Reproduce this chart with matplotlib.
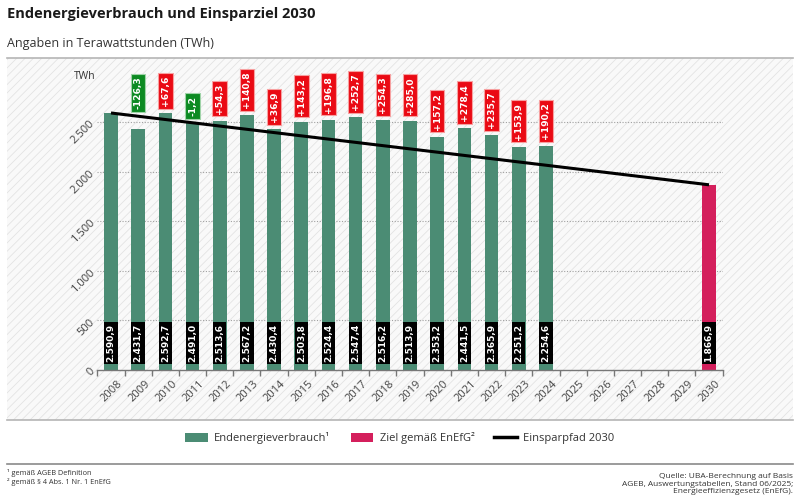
import matplotlib
matplotlib.use("Agg")
import matplotlib.pyplot as plt
from matplotlib.patches import Rectangle, Patch
from matplotlib.lines import Line2D
import matplotlib.transforms as mtransforms
import numpy as np

plt.rcParams['font.family'] = ['Open Sans', 'DejaVu Sans']
plt.rcParams['hatch.linewidth'] = 0.6

years = [str(y) for y in range(2008, 2031)]
consumption_years = [str(y) for y in range(2008, 2025)]
consumption = [2590.9, 2431.7, 2592.7, 2491.0, 2513.6, 2567.2, 2430.4, 2503.8,
               2524.4, 2547.4, 2516.2, 2513.9, 2353.2, 2441.5, 2365.9, 2251.2, 2254.6]
consumption_labels = ["2.590,9", "2.431,7", "2.592,7", "2.491,0", "2.513,6", "2.567,2",
                      "2.430,4", "2.503,8", "2.524,4", "2.547,4", "2.516,2", "2.513,9",
                      "2.353,2", "2.441,5", "2.365,9", "2.251,2", "2.254,6"]
target_year = "2030"
target = 1866.9
target_label = "1.866,9"
path_years = ["2008", "2030"]
path_values = [2590.9, 1866.9]
delta_years = [str(y) for y in range(2009, 2025)]
deltas = [-126.3, 67.6, -1.2, 54.3, 140.8, 36.9, 143.2, 196.8, 252.7, 254.3,
          285.0, 157.2, 278.4, 235.7, 153.9, 190.2]
delta_labels = ["-126,3", "+67,6", "-1,2", "+54,3", "+140,8", "+36,9", "+143,2", "+196,8",
                "+252,7", "+254,3", "+285,0", "+157,2", "+278,4", "+235,7", "+153,9", "+190,2"]
yticks = [0, 500, 1000, 1500, 2000, 2500]
ytick_labels = ["0", "500", "1.000", "1.500", "2.000", "2.500"]

GREEN = '#4b8c74'
PINK = '#d41f5c'
RED = '#ea0a14'
DGREEN = '#0c8a22'
LABEL_FONT = ['DejaVu Sans']

fig = plt.figure(figsize=(8, 5), dpi=100)
W, H = 800, 500

# hatched background
bg = Rectangle((7 / W, 1 - 420 / H), 786 / W, 362 / H, transform=fig.transFigure,
               facecolor='#f9f9f9', edgecolor='#e3e3e3', hatch='////', lw=0, zorder=-5)
fig.patches.append(bg)
for yy in (58, 420):
    fig.add_artist(Line2D([7 / W, 793 / W], [1 - yy / H, 1 - yy / H], color='#b5b5b5', lw=1.2,
                          transform=fig.transFigure))
fig.add_artist(Line2D([7 / W, 793 / W], [1 - 464 / H, 1 - 464 / H], color='#8a8a8a', lw=1.2,
                      transform=fig.transFigure))

fig.text(7 / W, 1 - 14 / H, "Endenergieverbrauch und Einsparziel 2030", fontsize=10.5,
         fontweight='bold', va='center', ha='left', color='#1a1a1a')
fig.text(7 / W, 1 - 44 / H, "Angaben in Terawattstunden (TWh)", fontsize=9,
         va='center', ha='left', color='#333333')

ax = fig.add_axes([97.4 / W, 1 - 370 / H, 625.2 / W, 297.6 / H])
ax.set_facecolor('none')
idx = {y: i for i, y in enumerate(years)}
xc = [idx[y] for y in consumption_years]
ax.bar(xc, consumption, width=0.5, color=GREEN, zorder=2)
ax.bar([idx[target_year]], [target], width=0.5, color=PINK, zorder=2)
ax.plot([idx[y] for y in path_years], path_values, color='black', lw=2.2, zorder=3,
        solid_capstyle='butt')

ax.set_xlim(-0.5, len(years) - 0.5)
ax.set_ylim(0, 3000)

for s in ('left', 'right', 'top'):
    ax.spines[s].set_visible(False)
ax.spines['bottom'].set_color('#777777')
ax.spines['bottom'].set_linewidth(1.0)
for v in yticks[1:]:
    ax.axhline(v, color='#a0a0a0', lw=0.8, ls=(0, (1, 1.5)), zorder=1)

ax.set_yticks(yticks)
ax.set_yticklabels(ytick_labels, rotation=45, ha='right', va='center', rotation_mode='anchor',
                   fontsize=8, color='#444444')
ax.tick_params(axis='y', length=0, pad=3)

ax.set_xticks(np.arange(len(years)))
ax.set_xticklabels(years, rotation=45, ha='right', va='center', rotation_mode='anchor',
                   fontsize=8, color='#444444')
ax.tick_params(axis='x', length=0, pad=9)
shift = mtransforms.ScaledTranslation(10 / 100, 0, fig.dpi_scale_trans)
for lab in ax.get_xticklabels():
    lab.set_transform(lab.get_transform() + shift)
ax.set_xticks(np.arange(-0.5, len(years)), minor=True)
ax.tick_params(axis='x', which='minor', length=4, color='#777777', width=1)

# value labels at the bottom
for x, lab in zip(xc, consumption_labels):
    ax.text(x, 272, lab, rotation=90, ha='center', va='center', fontsize=6.5, fontweight='bold',
            color='white', zorder=4, family=LABEL_FONT,
            bbox=dict(boxstyle='square,pad=0.25', facecolor='black', edgecolor='none'))
ax.text(idx[target_year], 272, target_label, rotation=90, ha='center', va='center', fontsize=6.5,
        fontweight='bold', color='white', zorder=4, family=LABEL_FONT,
        bbox=dict(boxstyle='square,pad=0.25', facecolor='black', edgecolor='none'))

# delta labels above bars
p0, p1 = path_values
n = idx[path_years[1]] - idx[path_years[0]]
cons_map = dict(zip(consumption_years, consumption))
for y, d, lab in zip(delta_years, deltas, delta_labels):
    i = idx[y]
    path_here = p0 + (p1 - p0) * (i - idx[path_years[0]]) / n
    base = max(cons_map[y], path_here)
    fc = DGREEN if d < 0 else RED
    ec = '#9fd3a8' if d < 0 else '#f7a0a0'
    ax.text(i, base + 70, lab, rotation=90, ha='center', va='bottom', fontsize=6.6,
            fontweight='bold', color='white', zorder=4, family=LABEL_FONT,
            bbox=dict(boxstyle='square,pad=0.3', facecolor=fc, edgecolor=ec, lw=0.8))

ax.text(-0.95, 2960, "TWh", ha='center', va='center', fontsize=7.5, color='#333333')

handles = [Patch(facecolor=GREEN, edgecolor='none', label='Endenergieverbrauch¹'),
           Patch(facecolor=PINK, edgecolor='none', label='Ziel gemäß EnEfG²'),
           Line2D([], [], color='black', lw=2.5, label='Einsparpfad 2030')]
leg = fig.legend(handles=handles, loc='center', bbox_to_anchor=(0.5, 1 - 438 / H), ncol=3,
                 frameon=False, fontsize=8, handlelength=2.0, handleheight=0.9,
                 columnspacing=1.8, handletextpad=0.6)
for t in leg.get_texts():
    t.set_color('#333333')

fig.text(7 / W, 1 - 473 / H, "¹ gemäß AGEB Definition", fontsize=5.3, color='#333333',
         va='center', ha='left')
fig.text(7 / W, 1 - 482 / H, "² gemäß § 4 Abs. 1 Nr. 1 EnEfG", fontsize=5.3, color='#333333',
         va='center', ha='left')
fig.text(793 / W, 1 - 484 / H,
         "Quelle: UBA-Berechnung auf Basis\nAGEB, Auswertungstabellen, Stand 06/2025;\nEnergieeffizienzgesetz (EnEfG).",
         fontsize=6, color='#333333', va='center', ha='right', multialignment='right',
         linespacing=1.15)

fig.savefig('out.png', dpi=100)
